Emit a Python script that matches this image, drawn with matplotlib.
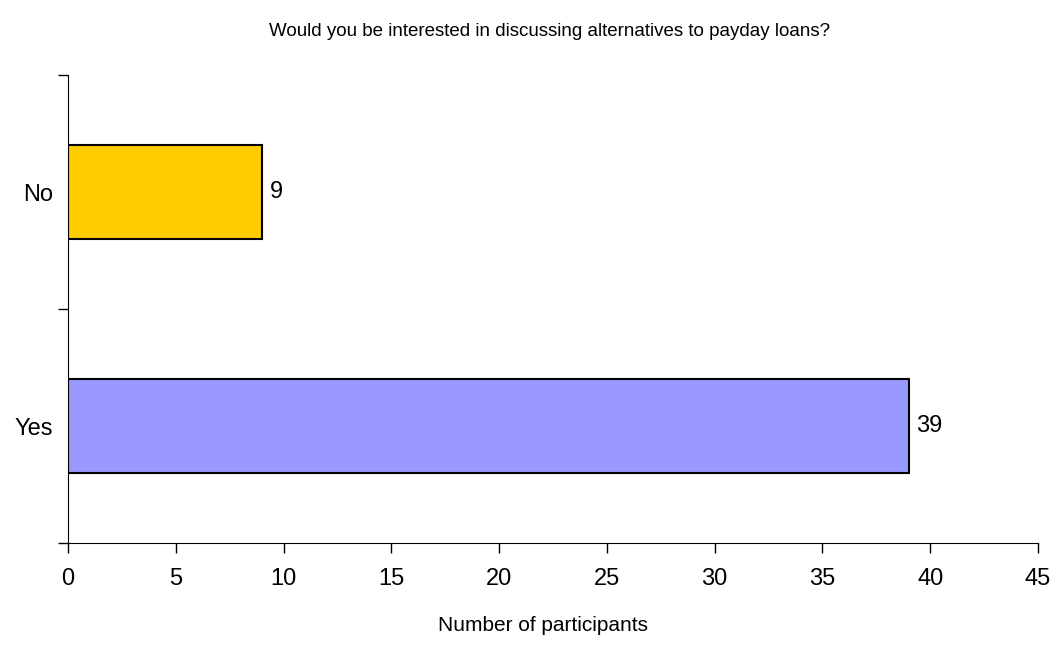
import matplotlib
matplotlib.use('Agg')
import matplotlib.pyplot as plt

# Survey responses
categories = ['Yes', 'No']
counts = [39, 9]
colors = ['#9999ff', '#ffcc00']
xticks = [0, 5, 10, 15, 20, 25, 30, 35, 40, 45]

plt.rcParams['font.family'] = ['Liberation Sans', 'DejaVu Sans']

fig = plt.figure(figsize=(10.56, 6.61), dpi=100)
ax = fig.add_axes([0.0644, 0.1785, 0.9186, 0.708])

bars = ax.barh(categories, counts, height=0.4, color=colors,
               edgecolor='black', linewidth=1.5)

# Value labels to the right of each bar
for bar, v in zip(bars, counts):
    ax.text(bar.get_width() + 0.35, bar.get_y() + bar.get_height() / 2, str(v),
            va='center', ha='left', fontsize=17)

ax.set_xlim(0, 45)
ax.set_ylim(-0.5, 1.5)
ax.set_xticks(xticks)
ax.set_yticks([-0.5, 0.5, 1.5], minor=False)
ax.set_yticklabels(['', '', ''])
ax.set_yticks([0, 1], minor=True)
ax.set_yticklabels(categories, minor=True)
ax.tick_params(axis='y', which='minor', length=0, labelsize=17, pad=11)
ax.tick_params(axis='y', which='major', length=7, width=1)
ax.tick_params(axis='x', length=7, width=1, labelsize=17, pad=11)

for s in ['top', 'right']:
    ax.spines[s].set_visible(False)

ax.set_xlabel('Number of participants', fontsize=15, labelpad=20)
ax.xaxis.set_label_coords(0.49, -0.155)
fig.suptitle('Would you be interested in discussing alternatives to payday loans?',
             fontsize=13.5, x=0.52, y=0.965)

fig.savefig('out.png', dpi=100)
